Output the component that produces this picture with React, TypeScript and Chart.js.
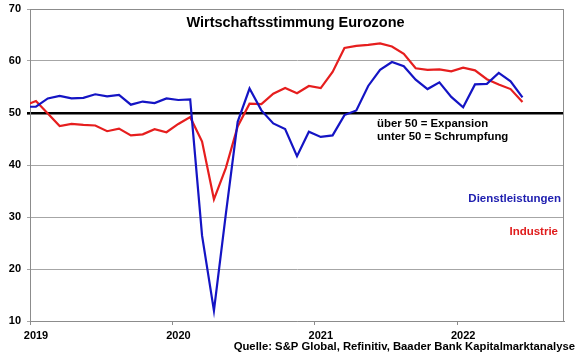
import React, { useEffect, useRef } from "react";
import { Chart, registerables } from "chart.js";

Chart.register(...registerables);

// Monthly values, Dec 2018 ... Jun 2022
const industrie = [
  51.4,
  52.3, 49.9, 47.5, 47.9, 47.7, 47.6, 46.5, 47.0, 45.7, 45.9, 46.9, 46.3,
  47.9, 49.2, 44.5, 33.4, 39.4, 47.4, 51.8, 51.7, 53.7, 54.8, 53.8, 55.2,
  54.8, 57.9, 62.5, 62.9, 63.1, 63.4, 62.8, 61.4, 58.6, 58.3, 58.4, 58.0,
  58.7, 58.2, 56.5, 55.5, 54.6, 52.1,
];
const dienstleistungen = [
  51.2,
  51.2, 52.8, 53.3, 52.8, 52.9, 53.6, 53.2, 53.5, 51.6, 52.2, 51.9, 52.8,
  52.5, 52.6, 26.4, 12.0, 30.5, 48.3, 54.7, 50.5, 48.0, 46.9, 41.7, 46.4,
  45.4, 45.7, 49.6, 50.5, 55.2, 58.3, 59.8, 59.0, 56.4, 54.6, 55.9, 53.1,
  51.1, 55.5, 55.6, 57.7, 56.1, 53.0,
];
const firstMonthOffset = -1; // Dec 2018 relative to Jan 2019
const yearLabels = ["2019", "2020", "2021", "2022"];
const yTicks = [10, 20, 30, 40, 50, 60, 70];
const xMaxMonths = 45;

const title = "Wirtschaftsstimmung Eurozone";
const noteLines = ["über 50 = Expansion", "unter 50 = Schrumpfung"];
const source = "Quelle: S&P Global, Refinitiv, Baader Bank Kapitalmarktanalyse";

const BLUE = "#1414c4";
const RED = "#e61e1e";
const FONT = "'Liberation Sans', Arial, sans-serif";

const toPoints = (arr: number[]) =>
  arr.map((v, i) => ({ x: i + firstMonthOffset + 0.5, y: v }));

const textPlugin = {
  id: "texts",
  afterDraw(chart: any) {
    const { ctx, chartArea } = chart;
    const ys = chart.scales.y;
    ctx.save();
    // frame
    ctx.strokeStyle = "#8c8c8c";
    ctx.lineWidth = 1;
    ctx.beginPath();
    ctx.moveTo(chartArea.left, chartArea.top + 0.5);
    ctx.lineTo(chartArea.right - 0.5, chartArea.top + 0.5);
    ctx.lineTo(chartArea.right - 0.5, chartArea.bottom);
    ctx.stroke();

    ctx.textBaseline = "middle";
    ctx.fillStyle = "#000";
    ctx.font = `bold 14.5px ${FONT}`;
    ctx.textAlign = "center";
    ctx.fillText(title, 295.5, 23);

    ctx.font = `bold 11.4px ${FONT}`;
    ctx.textAlign = "left";
    const y50 = ys.getPixelForValue(50);
    ctx.fillText(noteLines[0], 377, y50 + 11);
    ctx.fillText(noteLines[1], 377, y50 + 24);

    ctx.textAlign = "right";
    ctx.font = `bold 11.5px ${FONT}`;
    ctx.fillStyle = "#2020b0";
    ctx.fillText("Dienstleistungen", chartArea.right - 3, 199);
    ctx.fillStyle = "#e01c1c";
    ctx.fillText("Industrie", chartArea.right - 6, 232);

    ctx.fillStyle = "#000";
    ctx.font = `bold 11.3px ${FONT}`;
    ctx.fillText(source, 575, 347);
    ctx.restore();
  },
};

export default function App() {
  const ref = useRef<HTMLCanvasElement>(null);
  useEffect(() => {
    if (!ref.current) return;
    const chart = new Chart(ref.current, {
      type: "line",
      data: {
        datasets: [
          {
            label: "Dienstleistungen",
            data: toPoints(dienstleistungen),
            borderColor: BLUE,
            borderWidth: 2.2,
            pointRadius: 0,
            tension: 0,
          },
          {
            label: "Industrie",
            data: toPoints(industrie),
            borderColor: RED,
            borderWidth: 2.2,
            pointRadius: 0,
            tension: 0,
          },
        ],
      },
      options: {
        responsive: false,
        animation: false,
        layout: { padding: { top: 9, right: 16, left: 0, bottom: 0 } },
        plugins: { legend: { display: false }, tooltip: { enabled: false }, title: { display: false } },
        scales: {
          x: {
            type: "linear",
            min: 0,
            max: xMaxMonths,
            afterBuildTicks: (s: any) => {
              s.ticks = yearLabels.map((_, i) => ({ value: i * 12 }));
            },
            afterFit: (s: any) => {
              s.height = 38;
              s.paddingLeft = 0;
              s.paddingRight = 0;
            },
            ticks: {
              callback: (v: any) => yearLabels[Math.round(Number(v) / 12)] ?? "",
              labelOffset: 6,
              padding: 4,
              maxRotation: 0,
              autoSkip: false,
              color: "#000",
              font: { family: FONT, size: 11, weight: "bold" },
            },
            grid: { drawOnChartArea: false, drawTicks: true, tickLength: 4, color: "#8c8c8c" },
            border: { color: "#8c8c8c", width: 1 },
          },
          y: {
            min: 10,
            max: 70,
            afterBuildTicks: (s: any) => {
              s.ticks = yTicks.map((v) => ({ value: v }));
            },
            afterFit: (s: any) => {
              s.width = 30;
              s.paddingTop = 0;
              s.paddingBottom = 0;
            },
            ticks: {
              padding: 6,
              color: "#000",
              font: { family: FONT, size: 11, weight: "bold" },
            },
            grid: {
              tickLength: 3,
              color: (c: any) => (c.tick && c.tick.value === 50 ? "#000" : "#a6a6a6"),
              lineWidth: (c: any) => (c.tick && c.tick.value === 50 ? 2.6 : 1),
            },
            border: { color: "#8c8c8c", width: 1 },
          },
        },
      },
      plugins: [textPlugin],
    } as any);
    return () => chart.destroy();
  }, []);
  return (
    <div style={{ position: "fixed", left: 0, top: 0, width: 580, height: 359, background: "#fff" }}>
      <canvas ref={ref} width={580} height={359} />
    </div>
  );
}
